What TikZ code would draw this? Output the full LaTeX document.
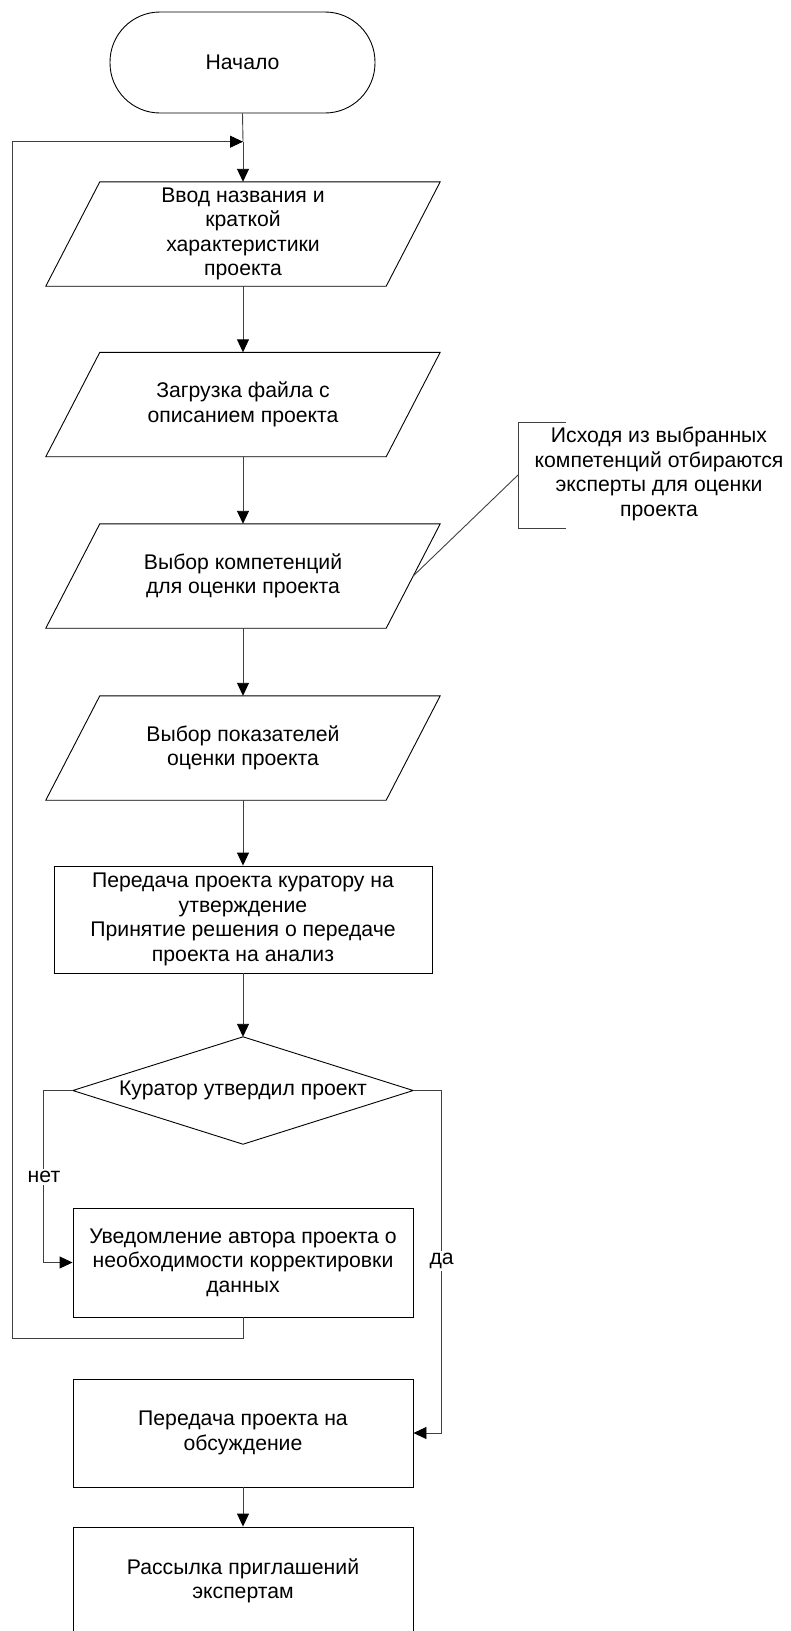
\documentclass[tikz,border=0pt]{standalone}
\usepackage{fontspec}
\setmainfont{Liberation Sans}
\usetikzlibrary{arrows.meta,calc}
\begin{document}
\begin{tikzpicture}[x=1pt,y=-1pt,
  every node/.style={font=\fontsize{21.2}{24.6}\selectfont, align=center, inner sep=0pt},
  terminal/.style={draw, line width=0.9pt, rounded corners=50pt, minimum width=265pt, minimum height=101pt},
  box/.style={draw, line width=0.9pt, minimum width=340pt, minimum height=108pt},
  io/.style={minimum width=340pt, minimum height=104pt},
  outline/.style={line width=0.9pt},
  link/.style={line width=0.9pt, draw=black!75},
  flow/.style={link, -{Triangle[length=13pt,width=12pt,black]}},
  tag/.style={fill=white, inner sep=2pt}
]
\useasboundingbox (0,0) rectangle (791,1631);
\clip (0,0) rectangle (791,1631);

% blocks
\node[terminal] (start) at (242.5,62.5) {Начало};
\node[io] (p1) at (243,234) {Ввод названия и\\краткой\\характеристики\\проекта};
\node[io] (p2) at (243,404.5) {Загрузка файла с\\описанием проекта};
\node[io] (p3) at (243,576) {Выбор компетенций\\для оценки проекта};
\node[io] (p4) at (243,748) {Выбор показателей\\оценки проекта};
\node[box, minimum width=378pt, minimum height=107pt] (r1) at (243,919.5)
  {Передача проекта куратору на\\утверждение\\Принятие решения о передаче\\проекта на анализ};
\node[minimum width=340pt, minimum height=107pt] (dec) at (243,1090.5) {Куратор утвердил проект};
\node[box, minimum height=109pt] (r2) at (243,1262.5)
  {Уведомление автора проекта о\\необходимости корректировки\\данных};
\node[box, minimum height=108pt] (r3) at (243,1433) {Передача проекта на\\обсуждение};
\node[box, minimum height=108pt] (r4) at (243,1581) {Рассылка приглашений\\экспертам};

% input/output parallelograms
\foreach \n in {p1,p2,p3,p4}
  \draw[outline] ([xshift=27pt]\n.north west) -- ([xshift=27pt]\n.north east)
    -- ([xshift=-27pt]\n.south east) -- ([xshift=-27pt]\n.south west) -- cycle;

% decision diamond
\draw[outline] (dec.north) -- (dec.east) -- (dec.south) -- (dec.west) -- cycle;

% comment
\node (note) at (659,474) {Исходя из выбранных\\компетенций отбираются\\эксперты для оценки\\проекта};
\coordinate (brk) at (518,475);
\draw[link] ($(brk)+(48,-53)$) -- ($(brk)+(0,-53)$) -- ($(brk)+(0,53)$) -- ($(brk)+(48,53)$);
\draw[link] (brk) -- (p3.east);

% main flow
\coordinate (join) at (243,141.7);
\draw[link] (start.south) -- (join);
\draw[flow] (join) -- (p1.north);
\draw[flow] (p1.south) -- (p2.north);
\draw[flow] (p2.south) -- (p3.north);
\draw[flow] (p3.south) -- (p4.north);
\draw[flow] (p4.south) -- (r1.north);
\draw[flow] (r1.south) -- (dec.north);

% branches
\draw[flow] (dec.west) -- ++(-29,0) |- (r2.west);
\node[tag] (no) at (44,1177) {нет};
\draw[flow] (dec.east) -- ++(28.7,0) |- (r3.east);
\node[tag] (yes) at (441.7,1261) {да};
\draw[flow] (r2.south) -- ++(0,21) -- ++(-230.3,0) |- (join);
\draw[flow] (r3.south) -- (r4.north);
\end{tikzpicture}
\end{document}
